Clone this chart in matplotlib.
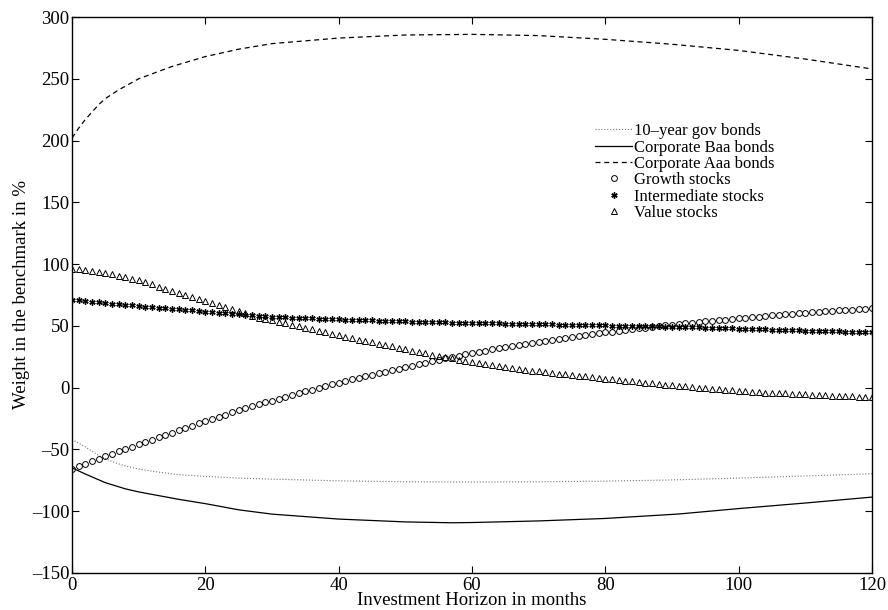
import numpy as np
import matplotlib.pyplot as plt

plt.rcParams['font.family'] = ['Liberation Serif', 'DejaVu Serif']

# investment horizon, one point per month
months = np.arange(0, 121)

growth = [
    -66.0, -63.9, -61.8, -59.8, -57.7, -55.7, -53.7, -51.7, -49.8, -47.9,
    -46.0, -44.1, -42.2, -40.3, -38.4, -36.5, -34.6, -32.7, -30.8, -28.9,
    -27.0, -25.3, -23.6, -21.9, -20.2, -18.5, -16.8, -15.1, -13.6, -12.1,
    -10.6, -9.1, -7.6, -6.1, -4.6, -3.1, -1.6, -0.2, 1.2, 2.6,
    4.0, 5.3, 6.6, 7.9, 9.2, 10.4, 11.6, 12.8, 14.0, 15.2,
    16.4, 17.6, 18.8, 20.0, 21.2, 22.4, 23.6, 24.7, 25.8, 26.9,
    28.0, 29.0, 30.0, 31.0, 32.0, 32.9, 33.8, 34.7, 35.6, 36.4,
    37.2, 38.0, 38.8, 39.6, 40.4, 41.1, 41.8, 42.5, 43.2, 43.9,
    44.6, 45.3, 46.0, 46.7, 47.3, 47.9, 48.5, 49.1, 49.7, 50.3,
    50.9, 51.5, 52.0, 52.5, 53.0, 53.5, 54.0, 54.5, 55.0, 55.5,
    56.0, 56.5, 57.0, 57.5, 58.0, 58.4, 58.8, 59.2, 59.6, 60.0,
    60.4, 60.8, 61.2, 61.6, 62.0, 62.4, 62.8, 63.2, 63.6, 64.0,
    64.4,
]

intermediate = [
    71.0, 70.5, 70.0, 69.5, 69.0, 68.5, 68.0, 67.5, 67.0, 66.5,
    66.0, 65.5, 65.1, 64.6, 64.2, 63.7, 63.3, 62.8, 62.4, 61.9,
    61.5, 61.1, 60.6, 60.2, 59.7, 59.3, 58.9, 58.5, 58.1, 57.8,
    57.5, 57.2, 57.0, 56.7, 56.5, 56.3, 56.1, 55.9, 55.7, 55.5,
    55.3, 55.1, 54.9, 54.7, 54.5, 54.4, 54.2, 54.0, 53.9, 53.7,
    53.6, 53.4, 53.3, 53.1, 53.0, 52.9, 52.7, 52.6, 52.5, 52.4,
    52.3, 52.2, 52.1, 52.0, 51.9, 51.8, 51.7, 51.6, 51.5, 51.4,
    51.3, 51.2, 51.1, 51.0, 50.9, 50.8, 50.7, 50.6, 50.5, 50.4,
    50.3, 50.2, 50.1, 50.0, 49.9, 49.8, 49.7, 49.6, 49.5, 49.4,
    49.3, 49.1, 49.0, 48.8, 48.7, 48.5, 48.4, 48.2, 48.1, 47.9,
    47.8, 47.6, 47.5, 47.3, 47.2, 47.0, 46.9, 46.7, 46.5, 46.4,
    46.2, 46.1, 45.9, 45.7, 45.6, 45.4, 45.3, 45.1, 44.9, 44.8,
    44.6,
]

value = [
    96.0, 95.6, 95.1, 94.5, 93.7, 92.8, 91.8, 90.7, 89.5, 88.2,
    86.9, 85.2, 83.5, 81.8, 80.1, 78.4, 76.7, 75.0, 73.3, 71.6,
    69.9, 68.2, 66.6, 64.9, 63.3, 61.6, 60.0, 58.3, 56.7, 55.5,
    54.3, 53.1, 51.9, 50.7, 49.5, 48.3, 47.1, 45.9, 44.7, 43.5,
    42.3, 41.1, 39.9, 38.8, 37.7, 36.6, 35.5, 34.4, 33.3, 32.2,
    31.1, 30.0, 28.9, 27.8, 26.7, 25.6, 24.5, 23.6, 22.7, 21.8,
    20.9, 20.0, 19.1, 18.2, 17.3, 16.6, 15.9, 15.2, 14.5, 13.8,
    13.1, 12.4, 11.7, 11.2, 10.6, 10.1, 9.5, 9.0, 8.4, 7.9,
    7.3, 6.8, 6.2, 5.7, 5.1, 4.6, 4.0, 3.5, 2.9, 2.4,
    1.8, 1.4, 0.9, 0.5, 0.0, -0.4, -0.9, -1.3, -1.8, -2.2,
    -2.7, -3.1, -3.6, -3.8, -4.1, -4.3, -4.6, -4.8, -5.0, -5.3,
    -5.5, -5.8, -6.0, -6.2, -6.5, -6.7, -7.0, -7.2, -7.4, -7.7,
    -7.9,
]

# bond weights, smooth curves
gov_months = [0, 2, 4, 6, 8, 10, 13, 16, 20, 25, 30, 40, 50, 60, 70, 80, 90, 100, 110, 120]
gov = [-42, -48, -55, -60, -63.5, -66, -68.5, -70.5, -72, -73.3, -74.2, -75.5,
       -76.3, -76.5, -76.3, -75.8, -74.8, -73.3, -71.6, -69.8]

baa_months = [0, 2, 5, 8, 10, 13, 16, 20, 25, 30, 40, 50, 57, 60, 70, 80, 91, 100, 110, 120]
baa = [-65, -70, -77, -82, -84.5, -87.5, -90.5, -94, -99, -102.5, -106.5,
       -108.8, -109.5, -109.3, -108, -106, -102.4, -98, -93.5, -88.7]

aaa_months = [0, 1, 2, 3, 4, 5, 7, 10, 15, 20, 25, 30, 40, 50, 60, 70, 80, 90, 100, 110, 120]
aaa = [202, 210, 217, 223, 229, 234, 241, 250, 260, 268, 274, 278.5, 283,
       285.5, 286, 285, 282, 278, 273, 266, 258]

yticks = list(range(-150, 301, 50))
fs = 13.5

fig = plt.figure(figsize=(8.88, 6.10), dpi=100)
ax = fig.add_axes([0.081, 0.061, 0.901, 0.911])

ax.plot(gov_months, gov, color='0.45', linestyle=':', linewidth=0.8,
        label='10\u2013year gov bonds')
ax.plot(baa_months, baa, color='black', linestyle='-', linewidth=0.9,
        label='Corporate Baa bonds')
ax.plot(aaa_months, aaa, color='black', linestyle=(0, (4, 3)), linewidth=0.9,
        label='Corporate Aaa bonds')
ax.plot(months, growth, linestyle='none', marker='o', markersize=4.2,
        markerfacecolor='none', markeredgecolor='black', markeredgewidth=0.7,
        label='Growth stocks')
ax.plot(months, intermediate, linestyle='none', marker=(6, 2, 0), markersize=4.5,
        color='black', markeredgewidth=1.0, label='Intermediate stocks')
ax.plot(months, value, linestyle='none', marker='^', markersize=5,
        markerfacecolor='none', markeredgecolor='black', markeredgewidth=0.7,
        label='Value stocks')

ax.set_xlim(0, 120)
ax.set_ylim(-150, 300)
ax.set_xticks(np.arange(0, 121, 20))
ax.set_yticks(yticks)
ax.set_yticklabels([str(v).replace('-', '\u2013') for v in yticks])

ax.tick_params(direction='in', length=5, width=0.8, top=True, right=True,
               labelsize=fs)
ax.tick_params(axis='x', pad=3)
ax.tick_params(axis='y', pad=2)
for spine in ax.spines.values():
    spine.set_linewidth(1.0)

ax.set_xlabel('Investment Horizon in months', fontsize=fs, labelpad=-1.5)
ax.set_ylabel('Weight in the benchmark in %', fontsize=fs, labelpad=1)

ax.legend(loc='upper left', bbox_to_anchor=(0.654, 0.809), frameon=False,
          fontsize=12, numpoints=1, handlelength=2.2, handletextpad=0.15,
          labelspacing=0.02, borderaxespad=0, borderpad=0)

fig.savefig('out.png', dpi=100)
